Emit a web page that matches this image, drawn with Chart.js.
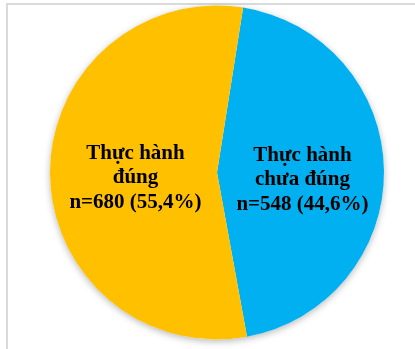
<!DOCTYPE html>
<html>
<head>
<meta charset="utf-8">
<script src="https://cdn.jsdelivr.net/npm/chart.js@4.4.1/dist/chart.umd.min.js"></script>
<style>
  html, body { margin: 0; padding: 0; background: #fff; }
  #wrap { position: relative; width: 415px; height: 349px; }
  #frame { position: absolute; left: 6px; top: 3px; right: 0; bottom: 0;
           border-top: 2px solid #dadada; border-left: 2px solid #dadada; }
  canvas { position: absolute; left: 0; top: 0; }
</style>
</head>
<body>
<div id="wrap">
  <div id="frame"></div>
  <canvas id="PieChart" width="415" height="349"></canvas>
</div>
<script>
// data
const labels = ['Thực hành chưa đúng', 'Thực hành đúng'];
const counts = [548, 680];
const percents = ['44,6', '55,4'];
const labelLines = [['Thực hành', 'chưa đúng'], ['Thực hành', 'đúng']];
const sliceColors = ['#00B0F0', '#FFC000'];

// soft shadow behind the pie
const pieShadow = {
    id: 'pieShadow',
    beforeDatasetsDraw(chart) {
        const arc = chart.getDatasetMeta(0).data[0];
        if (!arc) return;
        const ctx = chart.ctx;
        ctx.save();
        ctx.shadowColor = 'rgba(0,0,0,0.28)';
        ctx.shadowBlur = 7;
        ctx.shadowOffsetY = 2;
        ctx.beginPath();
        ctx.arc(arc.x, arc.y, arc.outerRadius, 0, Math.PI * 2);
        ctx.fillStyle = '#fff';
        ctx.fill();
        ctx.restore();
    }
};

// labels inside slices
const sliceLabels = {
    id: 'sliceLabels',
    afterDatasetsDraw(chart) {
        const ctx = chart.ctx;
        const meta = chart.getDatasetMeta(0);
        ctx.save();
        ctx.font = 'bold 21px "Liberation Serif", "Times New Roman", serif';
        ctx.fillStyle = '#000';
        ctx.textAlign = 'center';
        ctx.textBaseline = 'alphabetic';
        meta.data.forEach((arc, i) => {
            const pos = arc.tooltipPosition();
            const lines = [...labelLines[i], 'n=' + counts[i] + ' (' + percents[i] + '%)'];
            const lineH = 24.5;
            const baseY = 183 - lineH;
            lines.forEach((t, k) => {
                ctx.fillText(t, pos.x + 2, baseY + k * lineH + (i === 0 ? 2 : 0));
            });
        });
        ctx.restore();
    }
};

var ctx = document.getElementById('PieChart').getContext('2d');
var myPieChart = new Chart(ctx, {
    type: 'pie',
    data: {
        labels: labels,
        datasets: [{
            data: counts,
            backgroundColor: sliceColors,
            borderWidth: 0
        }]
    },
    options: {
        responsive: false,
        animation: false,
        rotation: 9,
        layout: { padding: { left: 50, right: 31, top: 5, bottom: 9 } },
        plugins: {
            legend: { display: false },
            tooltip: { enabled: false }
        }
    },
    plugins: [pieShadow, sliceLabels]
});
</script>
</body>
</html>
